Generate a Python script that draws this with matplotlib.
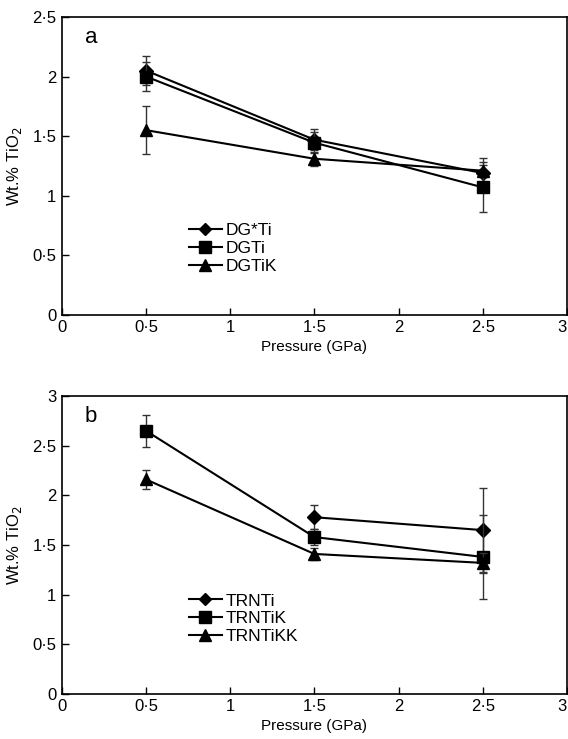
import matplotlib
matplotlib.use("Agg")
import matplotlib.pyplot as plt
from matplotlib.ticker import FuncFormatter

plt.rcParams['font.family'] = ['Liberation Sans', 'DejaVu Sans']

pressure = [0.5, 1.5, 2.5]

# panel a
dgs_ti = [2.05, 1.47, 1.19]
dgs_ti_err = [0.12, 0.09, 0.13]
dg_ti = [2.0, 1.445, 1.07]
dg_ti_err = [0.12, 0.09, 0.21]
dg_tik = [1.55, 1.31, 1.21]
dg_tik_err = [0.2, 0.06, 0.05]

# panel b
trn_ti = [None, 1.78, 1.65]
trn_ti_err = [0, 0.12, 0.42]
trn_tik = [2.65, 1.58, 1.38]
trn_tik_err = [0.16, 0.08, 0.42]
trn_tikk = [2.16, 1.41, 1.32]
trn_tikk_err = [0.1, 0.06, 0.1]


def dot_fmt(v, pos):
    s = ('%g' % v)
    return s.replace('.', '\u00b7')


def style_axes(ax, ymax, letter):
    ax.set_xlim(0, 3)
    ax.set_ylim(0, ymax)
    ax.set_xticks([0, 0.5, 1, 1.5, 2, 2.5, 3])
    ax.set_yticks([i * 0.5 for i in range(int(ymax * 2) + 1)])
    ax.xaxis.set_major_formatter(FuncFormatter(dot_fmt))
    ax.yaxis.set_major_formatter(FuncFormatter(dot_fmt))
    ax.tick_params(direction='in', length=5, width=1, labelsize=12, pad=4)
    for sp in ax.spines.values():
        sp.set_linewidth(1.2)
    ax.set_xlabel('Pressure (GPa)', fontsize=11, labelpad=3)
    ax.set_ylabel('Wt.% TiO$_2$', fontsize=12, labelpad=6)
    ax.text(0.045, 0.93, letter, transform=ax.transAxes, fontsize=16, va='center')
    # keep the "3" inside the picture
    fig.canvas.draw()
    ax.get_xticklabels()[-1].set_ha('right')


def series(ax, x, y, err, marker, ms, label):
    xs = [a for a, b in zip(x, y) if b is not None]
    ys = [b for b in y if b is not None]
    es = [e for e, b in zip(err, y) if b is not None]
    ax.errorbar(xs, ys, yerr=es, fmt='none', ecolor='#333333', elinewidth=1,
                capsize=3, capthick=1)
    ax.plot(xs, ys, color='black', lw=1.5, marker=marker, ms=ms, label=label)


fig = plt.figure(figsize=(5.68, 7.39), dpi=100)
ax1 = fig.add_axes([0.109, 0.574, 0.889, 0.403])
ax2 = fig.add_axes([0.109, 0.061, 0.889, 0.403])

series(ax1, pressure, dgs_ti, dgs_ti_err, 'D', 7, 'DG*Ti')
series(ax1, pressure, dg_ti, dg_ti_err, 's', 9, 'DGTi')
series(ax1, pressure, dg_tik, dg_tik_err, '^', 9, 'DGTiK')
style_axes(ax1, 2.5, 'a')

# TRNTi has no point at 0.5 GPa; plot only 1.5 and 2.5
series(ax2, pressure, trn_ti, trn_ti_err, 'D', 7, 'TRNTi')
series(ax2, pressure, trn_tik, trn_tik_err, 's', 9, 'TRNTiK')
series(ax2, pressure, trn_tikk, trn_tikk_err, '^', 9, 'TRNTiKK')
style_axes(ax2, 3, 'b')

for ax, y0 in ((ax1, 0.36), (ax2, 0.39)):
    ax.legend(loc='upper left', bbox_to_anchor=(0.22, y0), frameon=False,
              fontsize=12.5, handlelength=1.9, handletextpad=0.25,
              labelspacing=0.15, markerscale=0.9)

fig.savefig('out.png', dpi=100)
